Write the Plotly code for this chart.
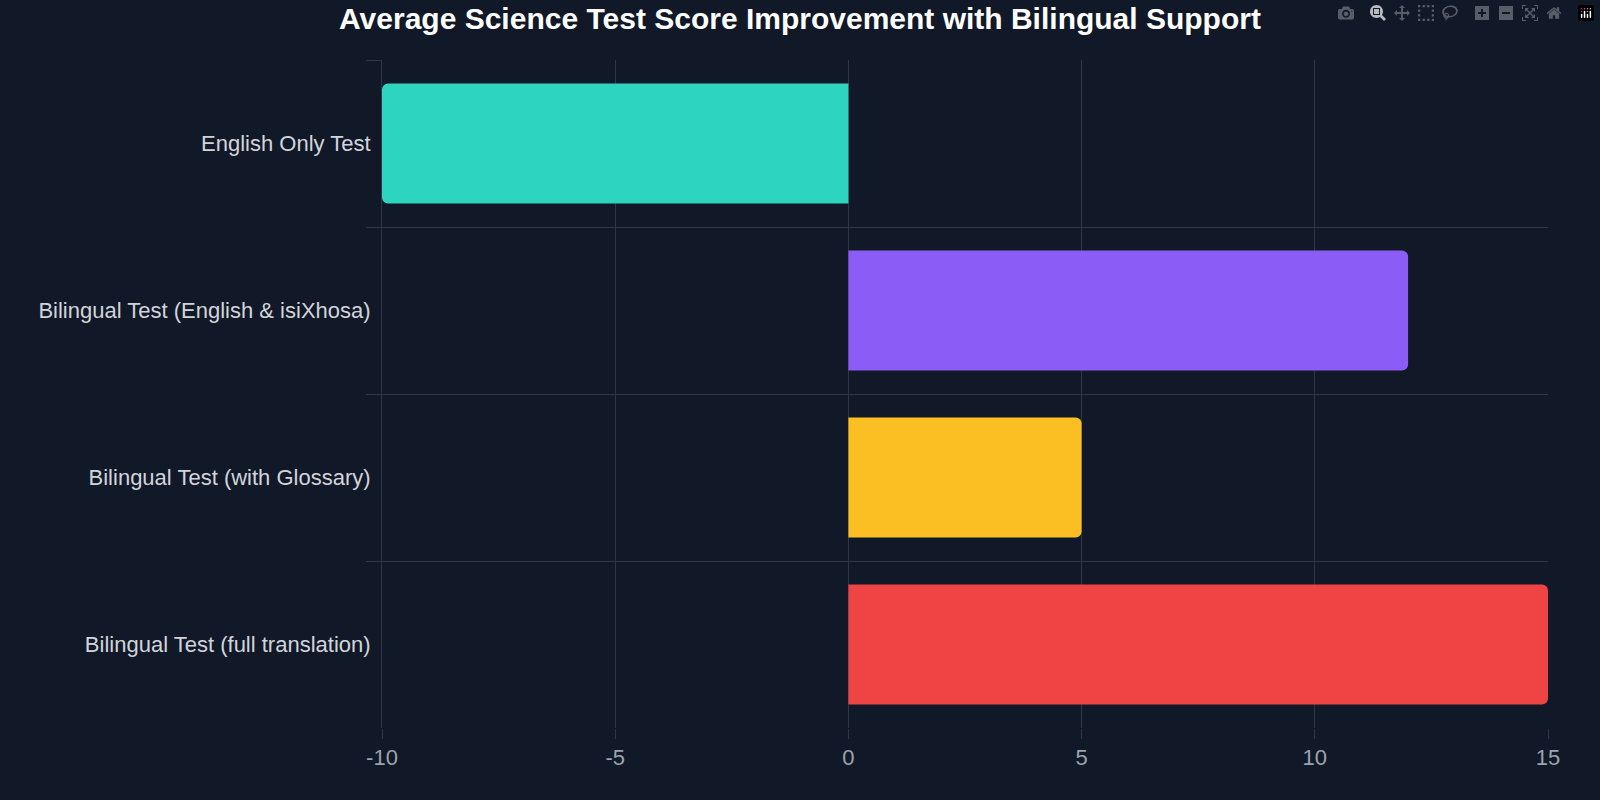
import plotly.graph_objects as go

categories = ["English Only Test", "Bilingual Test (English & isiXhosa)",
              "Bilingual Test (with Glossary)", "Bilingual Test (full translation)"]
values = [-10, 12, 5, 15]
colors = ["#2dd4bf", "#8b5cf6", "#fbbf24", "#ef4444"]
x_ticks = [-10, -5, 0, 5, 10, 15]
x_tick_labels = ["-10", "-5", "0", "5", "10", "15"]

fig = go.Figure(go.Bar(
    x=values, y=categories, orientation="h",
    marker=dict(color=colors, line=dict(width=0), cornerradius=6),
    width=0.72,
))
grid = "#2e3647"
fig.update_layout(
    width=1600, height=800,
    paper_bgcolor="#111827", plot_bgcolor="#111827",
    margin=dict(l=382, r=52, t=60, b=72),
    title=dict(text="<b>Average Science Test Score Improvement with Bilingual Support</b>",
               x=0.5, xanchor="center", y=0.977, yanchor="middle",
               font=dict(family="Liberation Sans, Arial", size=30, color="#ffffff")),
    font=dict(family="Liberation Sans, Arial"),
    showlegend=False,
)
fig.update_xaxes(range=[-10, 15], tickvals=x_ticks, ticktext=x_tick_labels,
                 showgrid=True, gridcolor=grid,
                 zeroline=True, zerolinecolor=grid, zerolinewidth=1,
                 ticks="outside", ticklen=10, tickcolor=grid,
                 tickfont=dict(size=22, color="#9ca3af"), showline=False)
fig.update_yaxes(autorange="reversed", type="category", tickson="boundaries",
                 showgrid=True, gridcolor=grid, ticks="outside", ticklen=15,
                 tickcolor=grid, tickfont=dict(size=22, color="#d1d5db"),
                 ticklabelstandoff=6, showline=True, linecolor=grid)
fig.write_html("out.html",
               post_script="document.body.style.margin='0';document.body.style.background='#111827';document.body.style.overflow='hidden';")
